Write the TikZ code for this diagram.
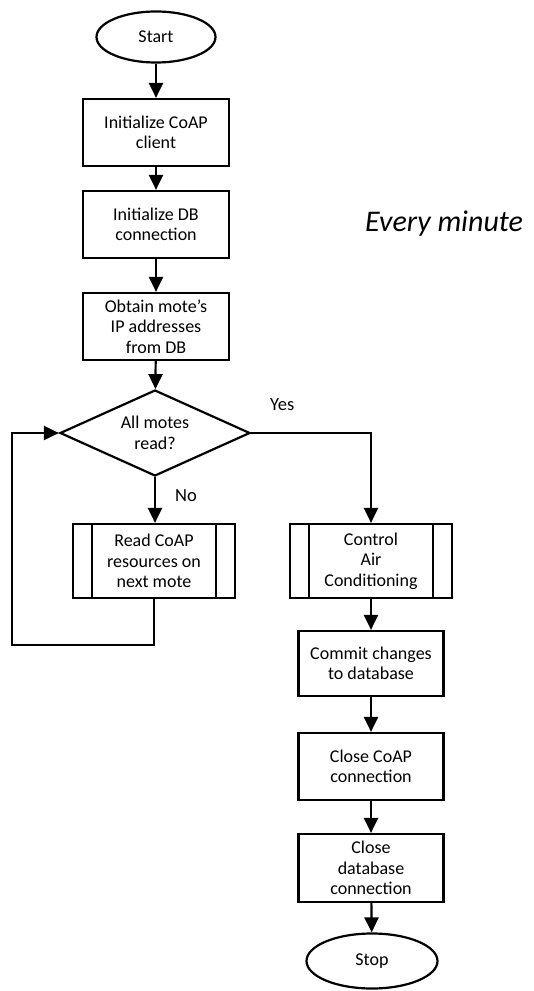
\documentclass[tikz,border=0pt]{standalone}
\usepackage{fontspec}
\setmainfont{Carlito}
\usetikzlibrary{shapes.geometric,arrows.meta}
\begin{document}
\begin{tikzpicture}[x=1pt,y=-1pt,
  every node/.style={font=\fontsize{18}{20.5}\selectfont, align=center},
  proc/.style={draw, line width=2.2pt, rectangle, inner sep=0pt},
  term/.style={draw, line width=2.2pt, ellipse, inner sep=0pt},
  decision/.style={draw, line width=2.2pt, diamond, aspect=2.2, inner sep=0pt,
                   minimum width=190pt, minimum height=86pt},
  flow/.style={line width=2.2pt, -{Triangle[width=14pt,length=15pt]}},
  subline/.style={line width=2.2pt},
  label/.style={anchor=base west, font=\fontsize{18.5}{22}\selectfont}]
\useasboundingbox (0,0) rectangle (533,991);

% main column
\node[term, minimum width=119pt, minimum height=51pt] (start) at (156,37) {Start};
\node[proc, minimum width=146pt, minimum height=67pt] (init) at (156,132.5) {Initialize CoAP\\client};
\node[proc, minimum width=146pt, minimum height=67pt] (db) at (156,224.5) {Initialize DB\\connection};
\node[proc, minimum width=146pt, minimum height=67pt] (ips) at (156,326.5) {Obtain mote’s\\IP addresses\\from DB};
\node[decision] (all) at (155,433) {All motes\\read?};

% loop body: predefined process
\node[proc, minimum width=162pt, minimum height=74pt] (read) at (154,561) {Read CoAP\\resources on\\next mote};
\draw[subline] ([xshift=20pt]read.north west) -- ([xshift=20pt]read.south west);
\draw[subline] ([xshift=-20pt]read.north east) -- ([xshift=-20pt]read.south east);

% right column
\node[proc, minimum width=162pt, minimum height=74pt] (ac) at (371,561) {Control\\Air\\Conditioning};
\draw[subline] ([xshift=20pt]ac.north west) -- ([xshift=20pt]ac.south west);
\draw[subline] ([xshift=-20pt]ac.north east) -- ([xshift=-20pt]ac.south east);
\node[proc, minimum width=145pt, minimum height=65pt] (commit) at (371,663.5) {Commit changes\\to database};
\node[proc, minimum width=145pt, minimum height=67pt] (closecoap) at (371,766.5) {Close CoAP\\connection};
\node[proc, minimum width=145pt, minimum height=68pt] (closedb) at (371,868) {Close\\database\\connection};
\node[term, minimum width=131pt, minimum height=55pt] (stop) at (372,961) {Stop};

\node[anchor=base west, inner sep=0pt, font=\fontsize{30}{34}\selectfont\itshape] (every) at (365,231) {Every minute};

% branch labels
\node[label, inner sep=0pt] (yes) at (270,410) {Yes};
\node[label, inner sep=0pt] (no) at (175,501) {No};

% connectors
\draw[flow] (start) -- (init);
\draw[flow] (init) -- (db);
\draw[flow] (db) -- (ips);
\draw[flow] (ips) -- (all);
\draw[flow] (all.south) -- (all.south |- read.north);
\draw[flow] (all.east) -| (ac.north);
\coordinate (loopcorner) at (12,645);
\draw[flow] (read.south) |- (loopcorner) |- (all.west);
\draw[flow] (ac) -- (commit);
\draw[flow] (commit) -- (closecoap);
\draw[flow] (closecoap) -- (closedb);
\draw[flow] (closedb) -- (stop);
\end{tikzpicture}
\end{document}
